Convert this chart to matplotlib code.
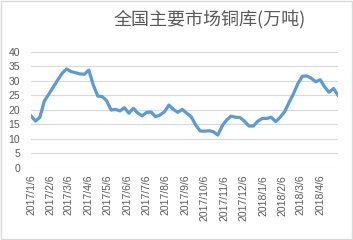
import matplotlib
matplotlib.use("Agg")
import matplotlib.pyplot as plt
import matplotlib.dates as mdates
import pandas as pd
import numpy as np

title = "全国主要市场铜库(万吨)"
start_date = "2017-01-06"
values = [17.9, 16.1, 17.4, 23.0, 25.3, 27.8, 30.2, 32.5, 34.0, 33.1,
          32.7, 32.3, 32.2, 33.6, 28.5, 24.7, 24.5, 23.1, 19.9, 20.1,
          19.6, 20.7, 18.8, 20.5, 18.8, 17.9, 19.1, 19.2, 17.6, 18.2,
          19.3, 21.6, 20.1, 19.1, 20.1, 18.8, 17.6, 14.8, 12.7, 12.6,
          12.8, 12.4, 11.3, 14.5, 16.5, 17.8, 17.4, 17.3, 16.0, 14.4,
          14.4, 16.1, 17.0, 17.0, 17.4, 15.9, 17.4, 19.3, 22.5, 25.5,
          29.0, 31.5, 31.6, 30.8, 29.6, 30.3, 27.8, 26.0, 27.3, 25.0]
tick_dates = ["2017-01-06", "2017-02-06", "2017-03-06", "2017-04-06", "2017-05-06",
              "2017-06-06", "2017-07-06", "2017-08-06", "2017-09-06", "2017-10-06",
              "2017-11-06", "2017-12-06", "2018-01-06", "2018-02-06", "2018-03-06",
              "2018-04-06"]
tick_labels = ["2017/1/6", "2017/2/6", "2017/3/6", "2017/4/6", "2017/5/6",
               "2017/6/6", "2017/7/6", "2017/8/6", "2017/9/6", "2017/10/6",
               "2017/11/6", "2017/12/6", "2018/1/6", "2018/2/6", "2018/3/6",
               "2018/4/6"]
y_ticks = [0, 5, 10, 15, 20, 25, 30, 35, 40]

dates = pd.date_range(start_date, periods=len(values), freq="7D")

fig = plt.figure(figsize=(3.53, 2.40), dpi=100)
ax = fig.add_axes([0.0878, 0.3004, 0.9575 - 0.0878, 0.7854 - 0.3004])

ax.plot(dates, values, color="#5B9BD5", linewidth=2.3, solid_joinstyle="round", zorder=3)

ax.set_ylim(0, 40)
ax.set_yticks(y_ticks)
ax.set_xlim(dates[0], dates[-1])
ax.set_xticks(pd.to_datetime(tick_dates))
ax.set_xticklabels(tick_labels, rotation=90)
ax.grid(axis="y", color="#D9D9D9", linewidth=0.8)
ax.set_axisbelow(True)
for s in ax.spines.values():
    s.set_visible(False)
ax.tick_params(axis="both", length=0, colors="#595959", labelsize=7.5)
ax.tick_params(axis="y", pad=8)
ax.tick_params(axis="x", pad=5)
for lab in ax.get_xticklabels() + ax.get_yticklabels():
    lab.set_fontfamily(["Liberation Sans", "DejaVu Sans"])

fig.text(0.595, 0.915, title, ha="center", va="center", fontsize=13,
         color="#595959", family=["Noto Sans CJK SC", "DejaVu Sans"])

fig.patches.append(plt.Rectangle((0.002, 0.003), 0.995, 0.993, transform=fig.transFigure,
                                 fill=False, edgecolor="#D9D9D9", linewidth=1))

fig.savefig("out.png", dpi=100)
